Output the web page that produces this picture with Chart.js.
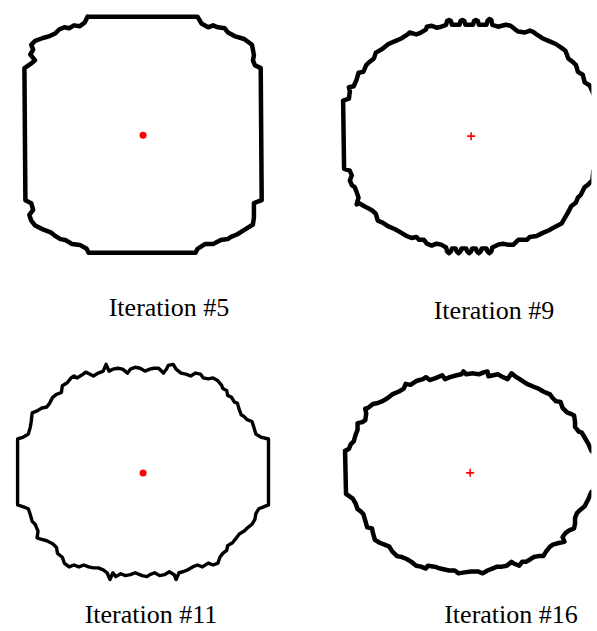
<!DOCTYPE html>
<html>
<head>
<meta charset="utf-8">
<script src="https://cdn.jsdelivr.net/npm/chart.js@4/dist/chart.umd.min.js"></script>
<style>
  body { margin: 0; background: #fff; }
  #page { position: relative; width: 597px; height: 631px; overflow: hidden; }
  canvas { position: absolute; }
  .caption {
    position: absolute;
    transform: translateX(-50%);
    white-space: nowrap;
    font-family: "Liberation Serif", "DejaVu Serif", serif;
    font-size: 26px;
    line-height: 26px;
    color: #000;
  }
</style>
</head>
<body>
<div id="page">
  <canvas id="panel5" width="290" height="280" style="left:0;top:0"></canvas>
  <canvas id="panel9" width="297" height="280" style="left:300px;top:0"></canvas>
  <canvas id="panel11" width="290" height="260" style="left:0;top:340px"></canvas>
  <canvas id="panel16" width="297" height="260" style="left:300px;top:340px"></canvas>
</div>
<script>
// Contour outlines, [x, y] relative to the seed point (y up)
const iter5Outline = [
  [-57,122],[56,122],[60,115],[67,111],[72,113],[77,111],[84,110],[87,106],[94,102],[104,99],
  [112,93],[113,88],[114,82],[113,77],[115,72],[121,69],[122,-67],[114,-70],[114,-78],[114,-85],
  [113,-92],[105,-97],[97,-102],[90,-105],[87,-107],[80,-108],[72,-112],[64,-112],[56,-117],[54,-121],
  [-56,-121],[-58,-117],[-65,-113],[-73,-112],[-80,-108],[-85,-107],[-90,-104],[-95,-100],[-103,-97],[-111,-93],
  [-115,-88],[-117,-82],[-113,-77],[-115,-70],[-121,-67],[-122,69],[-116,73],[-111,77],[-116,83],[-113,88],
  [-115,93],[-111,97],[-103,100],[-96,102],[-90,105],[-86,109],[-81,111],[-76,110],[-71,113],[-65,112],[-60,116]
];

const iter9Outline = [
  [-133,37],[-127,39],[-126,47],[-127,51],[-122,52],[-119,59],[-117,66],[-112,67],[-109,74],[-106,77],
  [-101,81],[-99,87],[-92,91],[-86,96],[-79,99],[-72,102],[-66,106],[-64,108],[-57,106],[-54,107],
  [-47,111],[-46,114],[-41,115],[-36,113],[-31,114],[-26,116],[-25,120],[-23,121],[-21,120],[-20,116],
  [-16,116],[-12,116],[-11,120],[-9,121],[-7,120],[-6,116],[-2,116],[2,116],[3,120],[5,121],
  [7,120],[8,116],[13,116],[16,116],[17,120],[19,122],[21,121],[22,116],[28,114],[36,116],
  [41,115],[46,111],[49,109],[56,108],[61,110],[64,109],[68,106],[74,102],[81,99],[88,96],
  [94,92],[98,89],[101,81],[106,77],[109,74],[111,67],[116,64],[118,56],[123,53],[125,49],
  [127,44],[133,38],[133,-34],[127,-36],[126,-46],[121,-51],[118,-53],[114,-61],[111,-64],[109,-69],
  [104,-73],[101,-79],[98,-84],[94,-91],[88,-94],[81,-98],[74,-101],[68,-104],[61,-105],[58,-108],
  [49,-108],[44,-113],[38,-113],[33,-112],[28,-113],[22,-116],[21,-120],[19,-122],[17,-120],[16,-117],
  [11,-117],[10,-120],[8,-122],[6,-120],[5,-117],[1,-117],[0,-120],[-2,-122],[-4,-120],[-5,-117],
  [-10,-117],[-11,-120],[-13,-122],[-15,-120],[-16,-117],[-20,-117],[-21,-120],[-23,-122],[-25,-120],[-26,-116],
  [-31,-113],[-36,-112],[-41,-114],[-46,-112],[-49,-108],[-54,-108],[-57,-105],[-62,-106],[-67,-104],[-72,-101],
  [-79,-97],[-86,-94],[-92,-90],[-97,-88],[-99,-81],[-102,-78],[-107,-75],[-111,-73],[-116,-70],[-119,-71],
  [-117,-64],[-119,-58],[-121,-53],[-124,-51],[-126,-46],[-124,-41],[-126,-36],[-132,-34]
];

const iter11Outline = [
  [-129,35],[-123,37],[-118,40],[-116,47],[-115,53],[-114,62],[-109,64],[-104,67],[-99,68],[-96,72],
  [-93,78],[-89,81],[-84,83],[-83,90],[-78,93],[-74,98],[-71,100],[-68,98],[-63,101],[-59,104],
  [-55,102],[-51,100],[-46,103],[-41,105],[-38,112],[-35,105],[-31,107],[-26,108],[-21,107],[-16,103],
  [-13,107],[-8,109],[-3,108],[2,105],[7,107],[11,108],[16,108],[21,103],[24,107],[26,111],
  [31,112],[34,107],[39,103],[44,102],[49,100],[54,103],[59,102],[62,98],[67,97],[72,98],
  [77,95],[81,90],[82,87],[86,85],[87,80],[91,78],[94,73],[97,72],[99,65],[101,60],
  [104,58],[107,55],[112,53],[114,47],[116,40],[121,37],[129,35],[129,-33],[124,-35],[119,-37],
  [116,-42],[115,-48],[112,-53],[107,-57],[104,-60],[99,-63],[96,-67],[92,-72],[87,-75],[86,-80],
  [82,-83],[79,-87],[77,-93],[72,-95],[67,-93],[61,-97],[56,-95],[51,-97],[46,-100],[41,-102],
  [37,-103],[34,-110],[32,-105],[27,-102],[22,-105],[17,-106],[12,-103],[7,-105],[4,-107],[-1,-106],
  [-8,-103],[-13,-105],[-18,-106],[-23,-104],[-28,-107],[-31,-103],[-34,-110],[-37,-103],[-41,-100],[-46,-98],
  [-51,-98],[-56,-97],[-61,-95],[-66,-97],[-71,-95],[-76,-97],[-81,-93],[-83,-87],[-88,-83],[-89,-77],
  [-93,-73],[-99,-70],[-106,-68],[-109,-67],[-108,-60],[-111,-53],[-114,-50],[-116,-43],[-118,-37],[-123,-35],
  [-129,-33]
];

const iter16Outline = [
  [-130,23],[-126,25],[-124,30],[-121,33],[-119,40],[-117,45],[-117,52],[-112,53],[-109,55],[-108,62],
  [-109,67],[-106,68],[-101,72],[-96,73],[-91,75],[-86,78],[-81,82],[-74,85],[-69,88],[-67,93],
  [-62,92],[-56,96],[-49,98],[-46,100],[-42,97],[-36,99],[-29,102],[-26,98],[-21,100],[-14,102],
  [-9,103],[-7,106],[-4,103],[3,104],[9,103],[14,105],[18,106],[19,101],[24,102],[29,103],
  [34,100],[39,98],[43,104],[48,100],[53,97],[59,93],[66,90],[71,88],[76,85],[83,82],
  [86,78],[89,75],[94,74],[96,68],[101,63],[104,62],[108,60],[109,53],[109,48],[113,43],
  [116,42],[119,37],[123,30],[126,23],[132,18],[132,-18],[126,-20],[123,-27],[119,-35],[114,-39],
  [111,-42],[109,-47],[109,-53],[108,-58],[103,-60],[99,-63],[96,-67],[98,-72],[93,-73],[86,-75],
  [83,-77],[79,-82],[76,-87],[71,-87],[66,-88],[63,-90],[58,-93],[54,-93],[51,-97],[46,-95],
  [43,-93],[38,-97],[33,-98],[28,-98],[23,-100],[18,-102],[13,-105],[8,-103],[1,-103],[-6,-104],
  [-12,-105],[-16,-102],[-22,-102],[-31,-100],[-37,-98],[-44,-97],[-46,-100],[-51,-98],[-56,-97],[-61,-93],
  [-66,-90],[-71,-88],[-76,-87],[-81,-82],[-84,-77],[-89,-75],[-94,-73],[-99,-70],[-101,-63],[-102,-58],
  [-107,-57],[-109,-50],[-111,-43],[-114,-40],[-117,-38],[-119,-32],[-122,-27],[-129,-22]
];

const iterationLabels = ["Iteration #5", "Iteration #9", "Iteration #11", "Iteration #16"];
const seedPoint = [0, 0];

// view window of each panel: [xMin, xMax, yMin, yMax]
const panels = [
  { id: "panel5",  outline: iter5Outline,  width: 4.5, marker: "circle", view: [-143, 147, -145, 135], caption: [169, 295] },
  { id: "panel9",  outline: iter9Outline,  width: 4.5, marker: "cross",  view: [-172, 125, -144, 136], caption: [494, 298] },
  { id: "panel11", outline: iter11Outline, width: 3.4, marker: "circle", view: [-143, 147, -127, 133], caption: [151, 602] },
  { id: "panel16", outline: iter16Outline, width: 4.5, marker: "cross",  view: [-171, 126, -127, 133], caption: [511, 602] }
];

function toPoints(list) {
  const pts = list.map(p => ({ x: p[0], y: p[1] }));
  pts.push({ x: list[0][0], y: list[0][1] }); // close the contour
  return pts;
}

panels.forEach(function (panel, i) {
  const ctx = document.getElementById(panel.id).getContext("2d");
  new Chart(ctx, {
    type: "scatter",
    data: {
      datasets: [
        {
          data: toPoints(panel.outline),
          showLine: true,
          borderColor: "#000",
          borderWidth: panel.width,
          borderJoinStyle: "round",
          borderCapStyle: "round",
          pointRadius: 0,
          tension: 0,
        },
        {
          data: [{ x: seedPoint[0], y: seedPoint[1] }],
          pointStyle: panel.marker,
          pointRadius: panel.marker === "circle" ? 3.5 : 4,
          backgroundColor: "#ff0000",
          borderColor: "#ff0000",
          borderWidth: panel.marker === "circle" ? 0 : 1.6,
        },
      ],
    },
    options: {
      responsive: false,
      animation: false,
      layout: { padding: 0 },
      plugins: { legend: { display: false }, tooltip: { enabled: false } },
      scales: {
        x: { type: "linear", min: panel.view[0], max: panel.view[1], display: false },
        y: { type: "linear", min: panel.view[2], max: panel.view[3], display: false },
      },
    },
  });

  const label = document.createElement("div");
  label.className = "caption";
  label.textContent = iterationLabels[i];
  label.style.left = panel.caption[0] + "px";
  label.style.top = panel.caption[1] + "px";
  document.getElementById("page").appendChild(label);
});
</script>
</body>
</html>
